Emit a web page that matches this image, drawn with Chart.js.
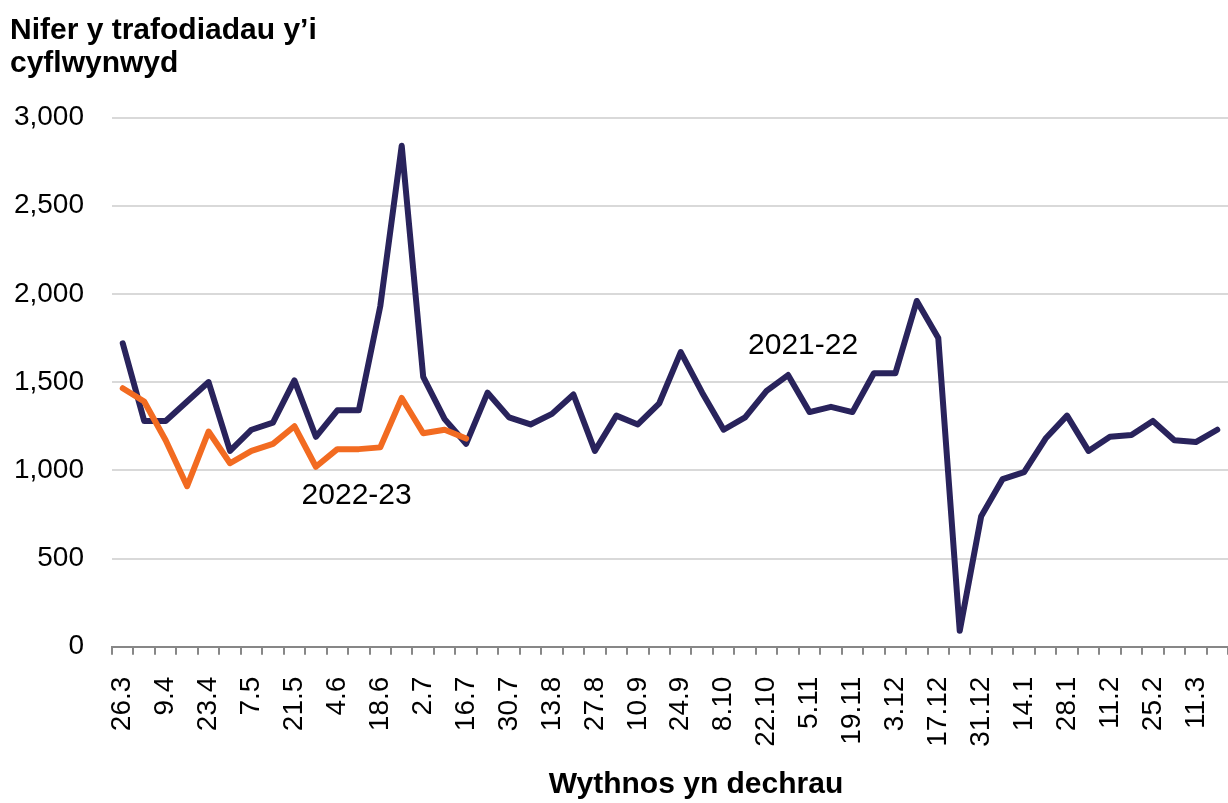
<!DOCTYPE html>
<html>
<head>
<meta charset="utf-8">
<script src="https://cdn.jsdelivr.net/npm/chart.js@4.4.1/dist/chart.umd.min.js"></script>
<style>
  html, body { margin: 0; padding: 0; background: #fff; }
  #wrap { width: 1228px; height: 803px; }
</style>
</head>
<body>
<div id="wrap"><canvas id="chart"></canvas></div>
<script>
// ── DATA ──────────────────────────────────────────────────────
const weekLabels = [
  '26.3','2.4','9.4','16.4','23.4','30.4','7.5','14.5','21.5','28.5',
  '4.6','11.6','18.6','25.6','2.7','9.7','16.7','23.7','30.7','6.8',
  '13.8','20.8','27.8','3.9','10.9','17.9','24.9','1.10','8.10','15.10',
  '22.10','29.10','5.11','12.11','19.11','26.11','3.12','10.12','17.12','24.12',
  '31.12','7.1','14.1','21.1','28.1','4.2','11.2','18.2','25.2','4.3',
  '11.3','18.3'
];

const series2122 = [
  1720, 1280, 1280, 1390, 1500, 1110, 1230, 1270, 1510, 1190,
  1340, 1340, 1930, 2840, 1530, 1290, 1150, 1440, 1300, 1260,
  1320, 1430, 1110, 1310, 1260, 1380, 1670, 1440, 1230, 1300,
  1450, 1540, 1330, 1360, 1330, 1550, 1550, 1960, 1750, 90,
  740, 950, 990, 1180, 1310, 1110, 1190, 1200, 1280, 1170,
  1160, 1230
];

const series2223 = [
  1465, 1390, 1170, 910, 1220, 1040, 1110, 1150, 1250, 1020,
  1120, 1120, 1130, 1410, 1210, 1230, 1180
];

const seriesNames = ['2021-22', '2022-23'];
const yTicks = [0, 500, 1000, 1500, 2000, 2500, 3000];

// ── STYLE ─────────────────────────────────────────────────────
const NAVY = '#29235C';
const ORANGE = '#F26B21';
const FONT = "'Liberation Sans', Arial, sans-serif";

// where the series names sit (category index, value)
const nameAnchors = [
  { text: seriesNames[0], idx: 31.7, val: 1705 },
  { text: seriesNames[1], idx: 10.9, val: 855 }
];

const extraText = {
  id: 'extraText',
  afterDatasetsDraw(chart) {
    const { ctx, scales: { x, y } } = chart;
    ctx.save();
    ctx.fillStyle = '#000';
    ctx.textBaseline = 'middle';
    ctx.textAlign = 'center';
    ctx.font = `30px ${FONT}`;
    nameAnchors.forEach(a => {
      ctx.fillText(a.text, x.getPixelForValue(a.idx), y.getPixelForValue(a.val));
    });
    ctx.font = `bold 30px ${FONT}`;
    ctx.fillText('Wythnos yn dechrau', 696, 785);
    ctx.restore();
  }
};

new Chart(document.getElementById('chart'), {
  type: 'line',
  data: {
    labels: weekLabels,
    datasets: [
      {
        label: seriesNames[0],
        data: series2122,
        order: 2,
        borderColor: NAVY,
        borderWidth: 6,
        pointRadius: 0,
        tension: 0,
        borderCapStyle: 'round',
        borderJoinStyle: 'round'
      },
      {
        label: seriesNames[1],
        data: series2223,
        order: 1,
        borderColor: ORANGE,
        borderWidth: 6,
        pointRadius: 0,
        tension: 0,
        borderCapStyle: 'round',
        borderJoinStyle: 'round'
      }
    ]
  },
  options: {
    responsive: true,
    maintainAspectRatio: false,
    animation: false,
    layout: { padding: { left: 10, top: 0, right: 0, bottom: 0 } },
    plugins: {
      legend: { display: false },
      tooltip: { enabled: false },
      title: {
        display: true,
        text: ['Nifer y trafodiadau y\u2019i', 'cyflwynwyd'],
        align: 'start',
        color: '#000',
        font: { family: FONT, size: 30, weight: 'bold', lineHeight: '33px' },
        padding: { top: 14, bottom: 37.5 }
      }
    },
    scales: {
      x: {
        offset: true,
        grid: {
          offset: true,
          drawOnChartArea: false,
          drawTicks: true,
          tickLength: 8,
          color: '#878787',
          lineWidth: 2
        },
        border: { display: true, color: '#878787', width: 2 },
        ticks: {
          autoSkip: false,
          maxRotation: 90,
          minRotation: 90,
          padding: 22,
          color: '#000',
          font: { family: FONT, size: 28 },
          callback: (v, i) => (i % 2 === 0 ? weekLabels[i] : '')
        },
        afterFit: s => {
          s.height = 803 - 646.7;
          s.paddingLeft = 0;
          s.paddingRight = 0;
        }
      },
      y: {
        min: 0,
        max: 3000,
        afterBuildTicks: s => { s.ticks = yTicks.map(v => ({ value: v })); },
        grid: { color: '#d9d9d9', lineWidth: 2, drawTicks: false },
        border: { display: false },
        ticks: {
          padding: 28,
          color: '#000',
          font: { family: FONT, size: 28 },
          callback: v => v.toLocaleString('en-US')
        },
        afterFit: s => { s.width = 102; }
      }
    }
  },
  plugins: [extraText]
});
</script>
</body>
</html>
